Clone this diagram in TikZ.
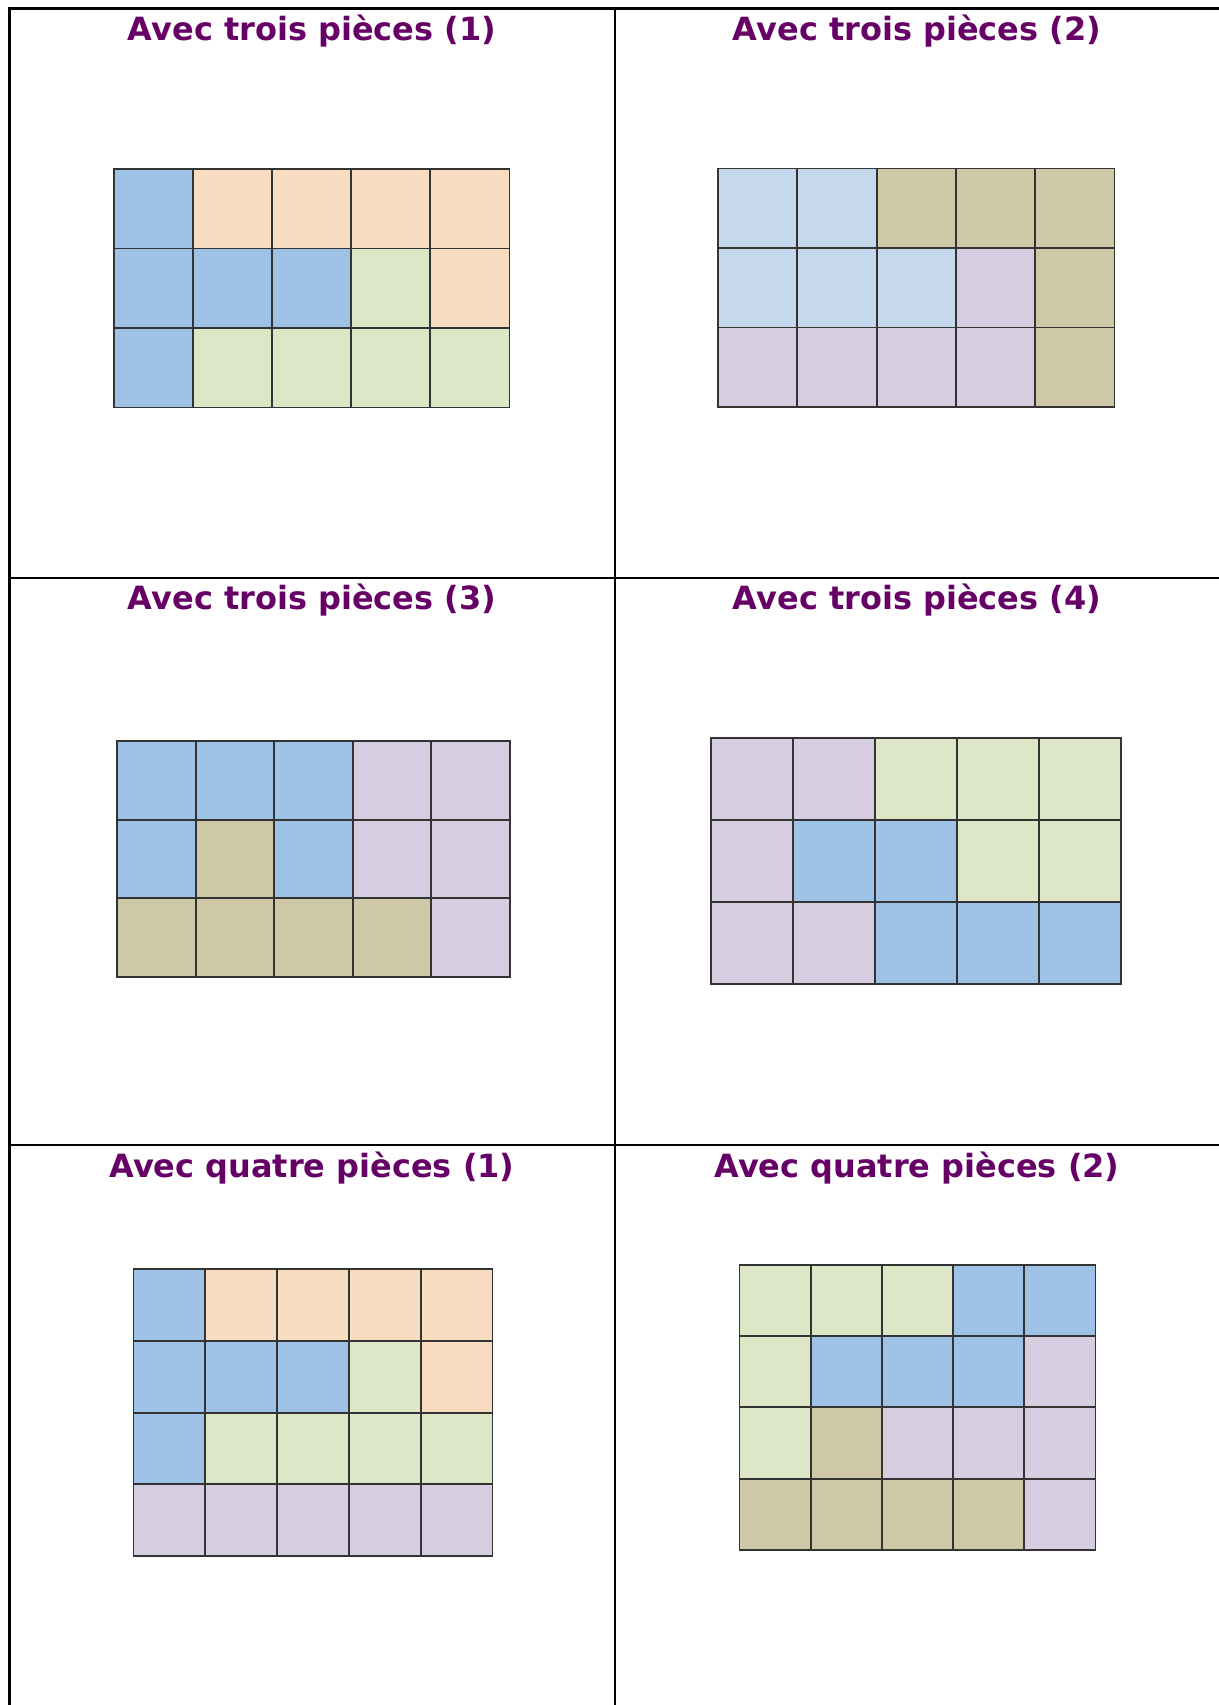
\documentclass[tikz,border=0pt]{standalone}
\usepackage{fontspec}
\setmainfont{DejaVu Sans}

\definecolor{titlepurple}{HTML}{660066}
\definecolor{bl}{HTML}{9EC2E6}
\definecolor{pe}{HTML}{F8DCC0}
\definecolor{gr}{HTML}{DEE6C8}
\definecolor{lb}{HTML}{C5D8EC}
\definecolor{kh}{HTML}{CEC8A6}
\definecolor{la}{HTML}{D6CDE0}

% one coloured tiling: left, top, cell width, cell height, rows of colours
\newcommand{\tiling}[5]{%
  \foreach \row [count=\lin from 0] in {#5}
    \foreach \c [count=\col from 0] in \row
      \draw[cell, fill=\c] (#1+\col*#3, #2+\lin*#4) rectangle ++(#3, #4);
}

\begin{document}
\begin{tikzpicture}[
    x=0.02cm, y=-0.02cm,
    % Styles
    rule/.style={line width=0.05cm, black},
    cell/.style={line width=1.1pt, draw=black!80, line join=miter},
    title/.style={anchor=base, text=titlepurple, inner sep=0pt,
        font=\fontsize{18.2}{22}\selectfont\bfseries}
]
\useasboundingbox (0,0) rectangle (1219,1705);

% --- Table rules ---
\draw[rule] (9.5,1705) -- (9.5,8.5) -- (1219,8.5);
\draw[rule] (615,8.5) -- (615,1705);
\draw[rule] (9.5,578) -- (1219,578);
\draw[rule] (9.5,1145) -- (1219,1145);

% --- Titles ---
\node[title] (t1) at (312, 40) {Avec trois pièces (1)};
\node[title] (t2) at (917, 40) {Avec trois pièces (2)};
\node[title] (t3) at (312, 609) {Avec trois pièces (3)};
\node[title] (t4) at (917, 609) {Avec trois pièces (4)};
\node[title] (t5) at (312, 1177) {Avec quatre pièces (1)};
\node[title] (t6) at (917, 1177) {Avec quatre pièces (2)};

% --- Tilings ---
\tiling{114}{169}{79.1}{79.5}{{bl,pe,pe,pe,pe},{bl,bl,bl,gr,pe},{bl,gr,gr,gr,gr}}
\tiling{718}{168.5}{79.3}{79.5}{{lb,lb,kh,kh,kh},{lb,lb,lb,la,kh},{la,la,la,la,kh}}
\tiling{117}{741}{78.6}{78.7}{{bl,bl,bl,la,la},{bl,kh,bl,la,la},{kh,kh,kh,kh,la}}
\tiling{711}{738}{82}{82}{{la,la,gr,gr,gr},{la,bl,bl,gr,gr},{la,la,bl,bl,bl}}
\tiling{133.5}{1269}{71.8}{71.8}{{bl,pe,pe,pe,pe},{bl,bl,bl,gr,pe},{bl,gr,gr,gr,gr},{la,la,la,la,la}}
\tiling{739.5}{1265}{71.2}{71.2}{{gr,gr,gr,bl,bl},{gr,bl,bl,bl,la},{gr,kh,la,la,la},{kh,kh,kh,kh,la}}

\end{tikzpicture}
\end{document}
